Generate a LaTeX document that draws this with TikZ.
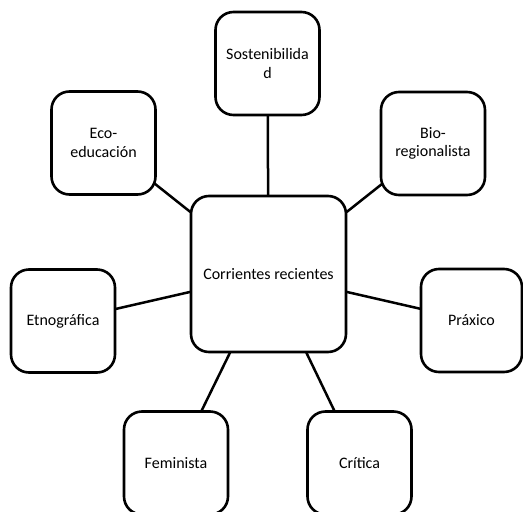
\documentclass[tikz,border=0pt]{standalone}
\usepackage{fontspec}
\setmainfont{Carlito}
\usetikzlibrary{positioning, backgrounds}

\begin{document}
\begin{tikzpicture}[x=1pt, y=-1pt,
  box/.style={draw, rectangle, rounded corners=18pt, line width=2.6pt, fill=white,
    minimum width=104pt, minimum height=103pt, align=center, inner sep=2pt,
    font=\fontsize{16}{18.6}\selectfont},
  link/.style={line width=2.5pt}]
\useasboundingbox (0,0) rectangle (523,512);
\node (cr) at (268.5,274) [box, minimum width=155pt, minimum height=156pt] {Corrientes recientes};
\node (sost) at (267.5,63.5) [box] {Sostenibilida\\d};
\node (eco) at (103.5,143) [box] {Eco-\\educación};
\node (bio) at (433,143.5) [box] {Bio-\\regionalista};
\node (etn) at (63,321) [box] {Etnográfica};
\node (prax) at (471.5,320.5) [box, minimum width=101pt] {Práxico};
\node (fem) at (176,463) [box] {Feminista};
\node (crit) at (359.5,463) [box] {Crítica};
\begin{scope}[on background layer]
\draw [link] (cr.center) -- (sost.center);
\draw [link] (cr.center) -- (eco.center);
\draw [link] (cr.center) -- (bio.center);
\draw [link] (cr.center) -- (etn.center);
\draw [link] (cr.center) -- (prax.center);
\draw [link] (cr.center) -- (fem.center);
\draw [link] (cr.center) -- (crit.center);
\end{scope}
\end{tikzpicture}
\end{document}
